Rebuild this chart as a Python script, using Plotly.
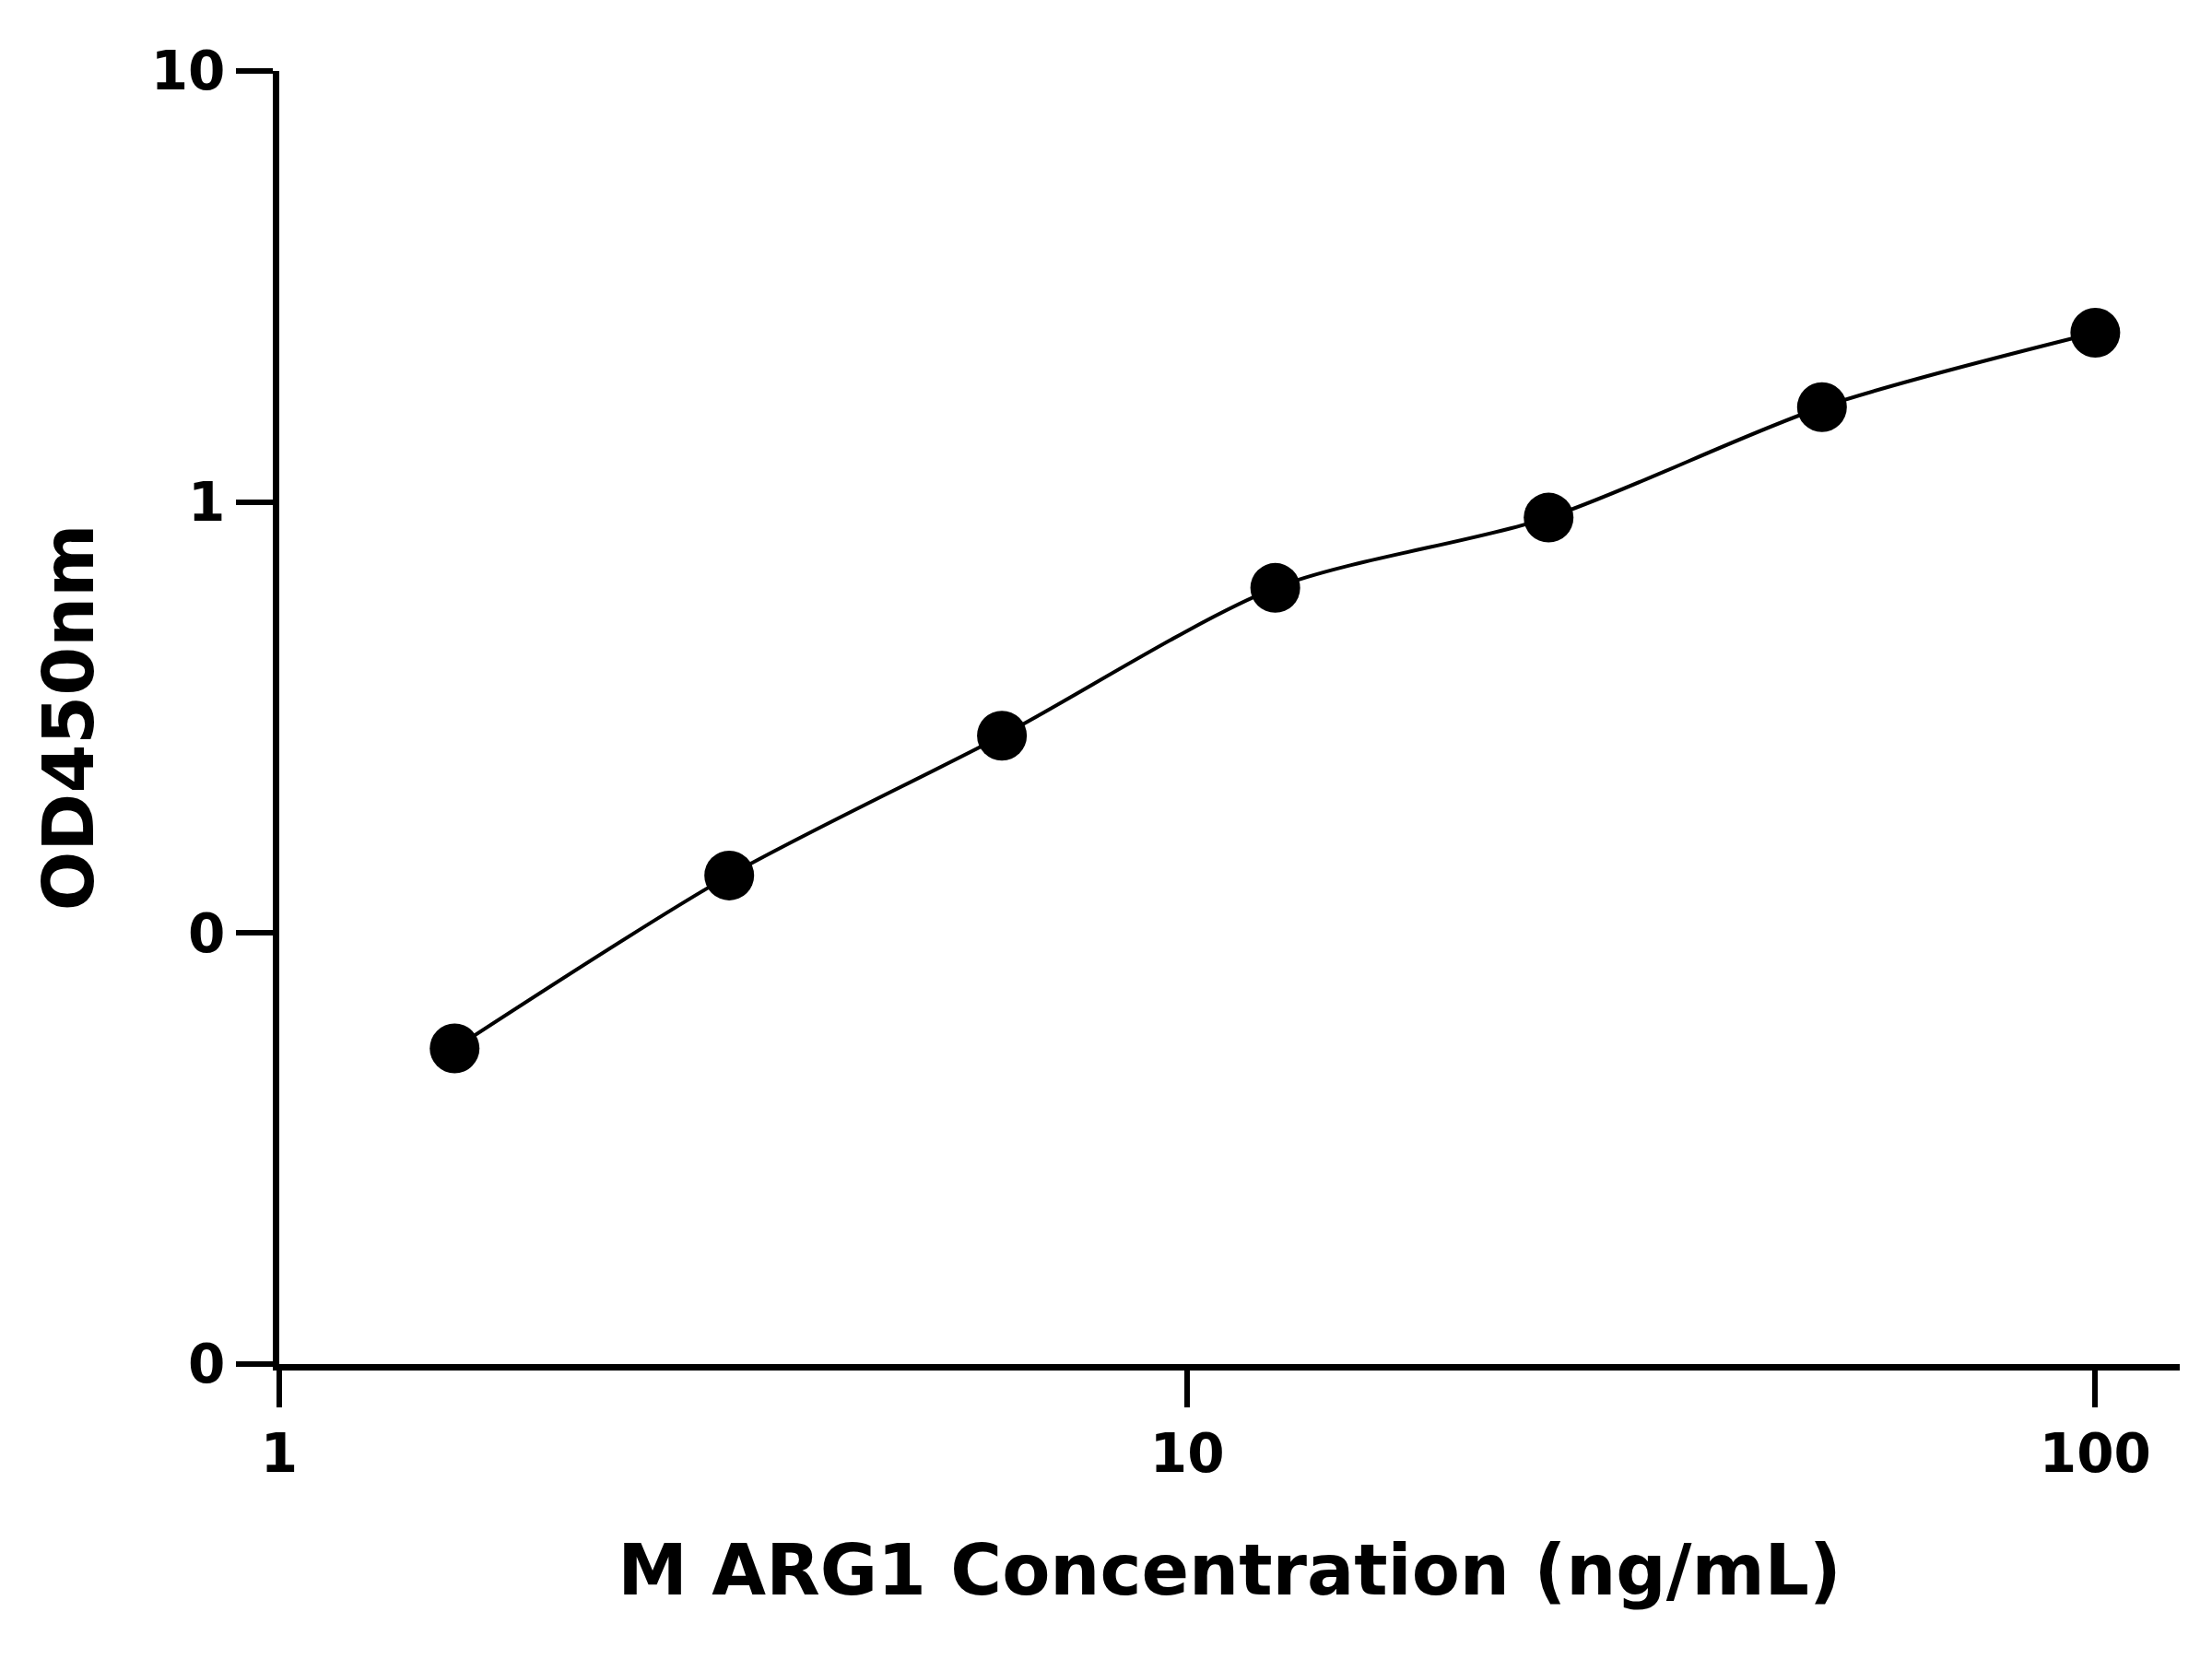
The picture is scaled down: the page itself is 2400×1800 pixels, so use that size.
import plotly.graph_objects as go

conc = [1.56, 3.13, 6.25, 12.5, 25, 50, 100]
od = [0.054, 0.136, 0.287, 0.632, 0.92, 1.66, 2.47]
y_ticks = [0.01, 0.1, 1, 10]
y_labels = ["0", "0", "1", "10"]
x_ticks = [1, 10, 100]
x_labels = ["1", "10", "100"]

fnt = "DejaVu Sans"

fig = go.Figure()
fig.add_trace(go.Scatter(x=conc, y=od, mode="lines", line=dict(color="black", width=4, shape="spline", smoothing=0.8),
                         showlegend=False, hoverinfo="skip"))
fig.add_trace(go.Scatter(x=conc, y=od, mode="markers", marker=dict(color="black", size=54), showlegend=False))

axis_common = dict(showgrid=False, zeroline=False, showline=True, linecolor="black", linewidth=7,
                   ticks="outside", ticklen=40, tickwidth=6, tickcolor="black",
                   tickfont=dict(family=fnt, size=58, color="black", weight="bold"))

fig.update_xaxes(type="log", range=[0, 2.093], tickvals=x_ticks, ticktext=x_labels,
                 title=dict(text="<b>M ARG1 Concentration (ng/mL)</b>", font=dict(family=fnt, size=76, color="black"), standoff=70),
                 **axis_common)
fig.update_yaxes(type="log", range=[-2, 1], tickvals=y_ticks, ticktext=y_labels,
                 title=dict(text="<b>OD450nm</b>", font=dict(family=fnt, size=76, color="black"), standoff=40),
                 **axis_common)

fig.update_layout(width=2400, height=1800, plot_bgcolor="white", paper_bgcolor="white",
                  margin=dict(l=295, r=43, t=69, b=328))

fig.write_html("out.html")
